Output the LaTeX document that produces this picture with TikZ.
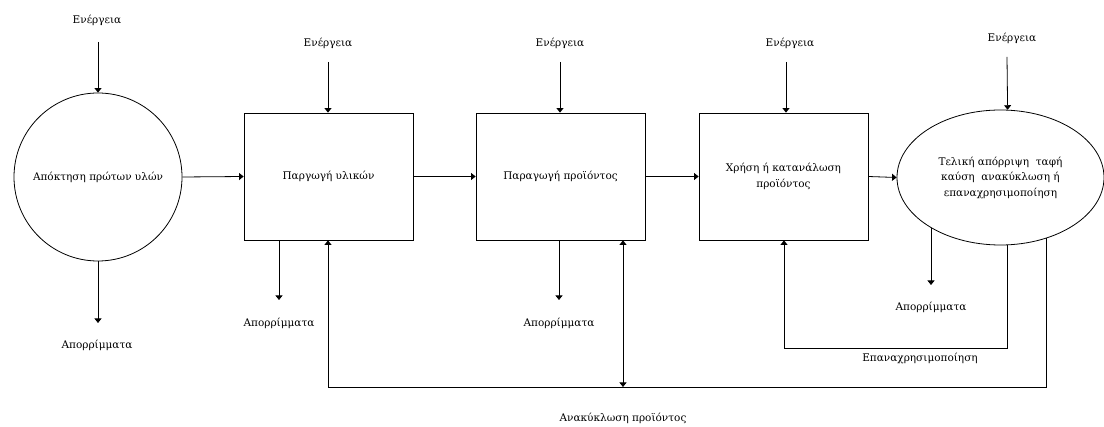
\documentclass[tikz,border=0pt]{standalone}
\usepackage{fontspec}
\setmainfont{DejaVu Serif}
\usetikzlibrary{arrows.meta,shapes.geometric}
\tikzset{
  lbl/.style={font=\fontsize{10.5}{12}\selectfont, inner sep=1pt},
  proc/.style={draw, line width=0.8pt, rectangle, minimum width=169pt, minimum height=127pt, inner sep=0pt, font=\fontsize{10.5}{15.5}\selectfont, align=center},
  circ/.style={draw, line width=0.8pt, circle, minimum size=168pt, inner sep=0pt, font=\fontsize{10.5}{12}\selectfont},
  ell/.style={draw, line width=0.8pt, ellipse, minimum width=207pt, minimum height=135pt, inner sep=0pt, font=\fontsize{10.5}{15.5}\selectfont, align=center},
  arr/.style={line width=0.8pt, -{Triangle[width=7pt,length=4.5pt]}},
  darr/.style={line width=0.8pt, {Triangle[width=7pt,length=4.5pt]}-{Triangle[width=7pt,length=4.5pt]}},
  ln/.style={line width=0.8pt}
}
\begin{document}
\begin{tikzpicture}[x=1pt,y=-1pt]
\useasboundingbox (0,0) rectangle (1104,427);
% main nodes
\node[circ] (c1) at (98,177) {Απόκτηση πρώτων υλών};
\node[proc] (b1) at (328.5,176.5) {Παργωγή υλικών};
\node[proc] (b2) at (560.5,176.5) {Παραγωγή προϊόντος};
\node[proc] (b3) at (783.5,176.5) {Χρήση ή κατανάλωση\\προϊόντος};
\node[ell] (el) at (1000.5,177.5) {Τελική απόρριψη \ ταφή\\καύση \ ανακύκλωση ή\\επαναχρησιμοποίηση};
% energy labels
\node[lbl] (e0) at (97,20) {Ενέργεια};
\node[lbl] (e1) at (328,43) {Ενέργεια};
\node[lbl] (e2) at (560,43) {Ενέργεια};
\node[lbl] (e3) at (790,43) {Ενέργεια};
\node[lbl] (e4) at (1012,38) {Ενέργεια};
\coordinate (s0) at (98,42);
\coordinate (s1) at (328,62);
\coordinate (s2) at (560,62);
\coordinate (s3) at (786,62);
\coordinate (s4) at (1007,57);
\draw[arr] (s0) -- (c1.north);
\draw[arr] (s1) -- (b1.north -| s1);
\draw[arr] (s2) -- (b2.north -| s2);
\draw[arr] (s3) -- (b3.north -| s3);
\draw[arr] (s4) -- (el.84);
% flow
\draw[arr] (c1.east) -- (b1.west);
\draw[arr] (b1.east) -- (b2.west);
\draw[arr] (b2.east) -- (b3.west);
\draw[arr] (b3.east) -- (el.west);
% waste
\node[lbl] (w0) at (97,345) {Απορρίμματα};
\node[lbl] (w1) at (279,323) {Απορρίμματα};
\node[lbl] (w2) at (559,323) {Απορρίμματα};
\node[lbl] (w3) at (931,307) {Απορρίμματα};
\coordinate (t0) at (98,323);
\coordinate (t1) at (279,300);
\coordinate (t2) at (559,300);
\coordinate (t3) at (931,285);
\draw[arr] (c1.south) -- (t0);
\draw[arr] (b1.south -| t1) -- (t1);
\draw[arr] (b2.south -| t2) -- (t2);
\draw[arr] (el.-144) -- (el.-144 |- t3);
% reuse loop
\node[lbl] (reuse) at (920,358) {Επαναχρησιμοποίηση};
\coordinate (r1) at (784,348);
\draw[arr] (el.-84.5) |- (r1) -- (b3.south -| r1);
% recycling loop
\node[lbl] (recyc) at (623,418) {Ανακύκλωση προϊόντος};
\coordinate (q1) at (328,387);
\coordinate (q2) at (623,387);
\coordinate (q3) at (623,240);
\draw[arr] (el.-53) |- (q1) -- (b1.south -| q1);
\draw[darr] (q2) -- (b2.south -| q3);
\end{tikzpicture}
\end{document}
